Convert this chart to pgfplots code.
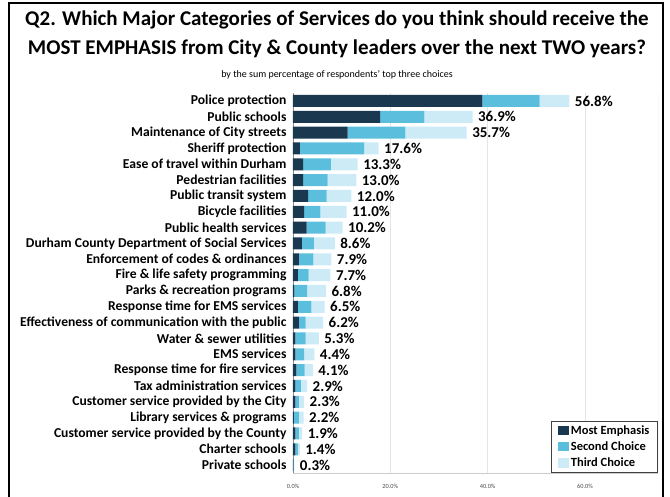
\documentclass[border=0pt]{standalone}
\usepackage{fontspec}
\setmainfont{Carlito}
\usepackage{pgfplots}
\usepackage{pgfplotstable}
\pgfplotsset{compat=1.18}
\definecolor{cMost}{HTML}{1A3850}
\definecolor{cSecond}{HTML}{5BBEDD}
\definecolor{cThird}{HTML}{CDEBF7}

\pgfplotstableread{
idx most second third total
1 38.9 11.8 6.1 56.8
2 17.9 9.1 9.9 36.9
3 11.2 11.9 12.6 35.7
4 1.4 13.2 3.0 17.6
5 2.1 5.7 5.5 13.3
6 2.1 5.0 5.9 13.0
7 3.1 3.8 5.1 12.0
8 2.3 3.3 5.4 11.0
9 2.8 3.9 3.5 10.2
10 1.8 2.5 4.3 8.6
11 1.2 3.0 3.7 7.9
12 1.0 2.2 4.5 7.7
13 0.3 2.6 3.9 6.8
14 1.0 2.8 2.7 6.5
15 1.2 1.4 3.6 6.2
16 0.5 2.1 2.7 5.3
17 0.5 1.8 2.1 4.4
18 0.7 1.7 1.7 4.1
19 0.5 1.1 1.3 2.9
20 0.5 0.7 1.1 2.3
21 0.2 1.0 1.0 2.2
22 0.5 0.7 0.7 1.9
23 0.5 0.5 0.4 1.4
24 0.1 0.1 0.1 0.3
}\datatable

\pgfplotsset{common/.style={
  at={(293pt,23pt)}, anchor=south west,
  width=365pt, height=380pt, scale only axis,
  bar width=12pt,
  xmin=0, xmax=75,
  ymin=0.5, ymax=24.5, y dir=reverse,
  /pgf/number format/assume math mode=true}}

\begin{document}
\begin{tikzpicture}[x=1pt,y=1pt]
\useasboundingbox (0,0) rectangle (670,496);
\draw[line width=2.5pt] (9,-20) rectangle (663,493);
\node[font=\bfseries\fontsize{21}{23}\selectfont] at (337,476) {Q2. Which Major Categories of Services do you think should receive the};
\node[font=\bfseries\fontsize{21}{23}\selectfont] at (337,447) {MOST EMPHASIS from City \& County leaders over the next TWO years?};
\node[font=\fontsize{10}{12}\selectfont] at (337,421) {by the sum percentage of respondents' top three choices};
\begin{axis}[
  common,
  xbar stacked,
  ytick={1,...,24},
  yticklabels={Police protection, Public schools, Maintenance of City streets, Sheriff protection, Ease of travel within Durham, Pedestrian facilities, Public transit system, Bicycle facilities, Public health services, Durham County Department of Social Services, Enforcement of codes \& ordinances, Fire \& life safety programming, Parks \& recreation programs, Response time for EMS services, Effectiveness of communication with the public, Water \& sewer utilities, EMS services, Response time for fire services, Tax administration services, Customer service provided by the City, Library services \& programs, Customer service provided by the County, Charter schools, Private schools},
  yticklabel style={font=\bfseries\fontsize{13.6}{14}\selectfont, xshift=-3pt},
  xtick={0,20,40,60},
  xticklabels={0.0\%, 20.0\%, 40.0\%, 60.0\%},
  xticklabel style={font=\fontsize{6.3}{7}\selectfont, text=black!70, yshift=-8pt},
  major tick length=0pt,
  xmajorgrids, grid style={black!10, line width=0.6pt},
  axis line style={draw=none},
  legend style={at={(1,0)}, anchor=south east, draw=black!75, line width=1.2pt,
    font=\bfseries\fontsize{12.5}{14}\selectfont, row sep=2pt, inner xsep=6pt, inner ysep=2pt,
    legend cell align=left},
  legend image code/.code={\fill[#1] (0pt,-4.5pt) rectangle (11pt,5pt);},
]
\addplot[fill=cMost, draw=none] table[x=most, y=idx] {\datatable};
\addplot[fill=cSecond, draw=none] table[x=second, y=idx] {\datatable};
\addplot[fill=cThird, draw=none] table[x=third, y=idx] {\datatable};
\legend{Most Emphasis, Second Choice, Third Choice}
\draw[black!45, line width=0.8pt] (rel axis cs:0,0) -- (rel axis cs:0,1);
\draw[black!20, line width=0.8pt] (rel axis cs:0,0) -- (rel axis cs:1,0) -- (rel axis cs:1,1);
\end{axis}
\begin{axis}[common, xbar, hide axis]
\addplot[draw=none, fill=none,
  nodes near coords={\pgfmathprintnumber[fixed,fixed zerofill,precision=1]{\pgfplotspointmeta}\%},
  nodes near coords style={anchor=west, font=\bfseries\fontsize{15}{16}\selectfont, text=black, xshift=2pt},
  point meta=explicit] table[x=total, y=idx, meta=total] {\datatable};
\end{axis}
\end{tikzpicture}
\end{document}
